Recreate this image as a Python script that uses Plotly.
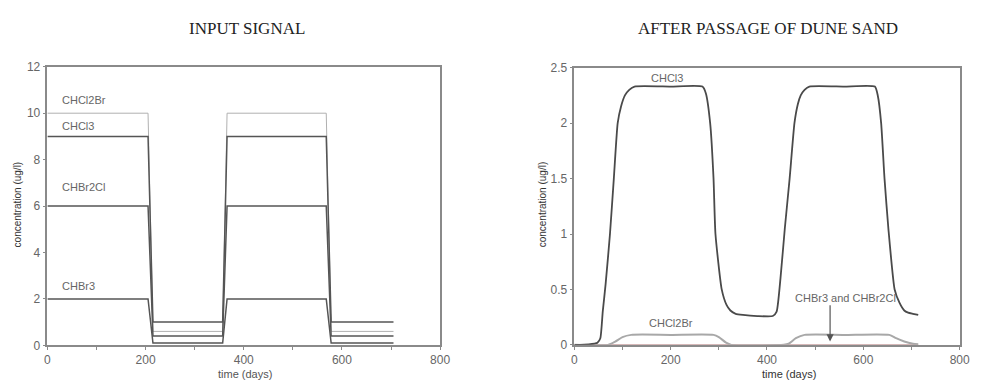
import plotly.graph_objects as go

# ---------------- data ----------------
days_in = [0, 205, 215, 357, 366, 568, 578, 705]
chcl2br_in = [10, 10, 0.6, 0.6, 10, 10, 0.6, 0.6]
chcl3_in = [9, 9, 1.0, 1.0, 9, 9, 1.0, 1.0]
chbr2cl_in = [6, 6, 0.4, 0.4, 6, 6, 0.4, 0.4]
chbr3_in = [2, 2, 0.1, 0.1, 2, 2, 0.1, 0.1]

days_out_cl3 = [0, 30, 48, 54, 59, 65, 74, 82, 90, 97, 105, 114, 125, 200, 266, 273, 282, 289,
                293, 306, 316, 324, 335, 350, 380, 412, 420, 428, 437, 447, 457, 464, 470, 478,
                488, 560, 624, 630, 637, 644, 652, 665, 675, 685, 693, 703, 714]
chcl3_out = [0, 0.005, 0.02, 0.06, 0.3, 0.55, 1.0, 1.5, 2.0, 2.15, 2.25, 2.3, 2.33, 2.33, 2.33,
             2.27, 2.0, 1.5, 1.0, 0.5, 0.36, 0.31, 0.28, 0.27, 0.26, 0.26, 0.3, 0.6, 1.05, 1.5,
             2.0, 2.17, 2.25, 2.3, 2.33, 2.33, 2.33, 2.25, 2.0, 1.5, 1.05, 0.5, 0.38, 0.31, 0.29,
             0.28, 0.27]

days_out_cl2br = [0, 70, 85, 100, 118, 200, 289, 300, 315, 326, 435, 445, 460, 478, 560, 654,
                  668, 685, 703, 714]
chcl2br_out = [0, 0, 0.03, 0.07, 0.09, 0.09, 0.09, 0.07, 0.02, 0, 0, 0.01, 0.06, 0.09, 0.09,
               0.09, 0.06, 0.03, 0.01, 0.005]

days_out_br = [0, 714]
chbr_out = [0, 0]

# ---------------- figure ----------------
W, H = 981, 388
fig = go.Figure()

dark = "#555555"
light = "#b0b0b0"

fig.add_trace(go.Scatter(x=days_in, y=chcl2br_in, mode="lines", line=dict(color=light, width=1),
                         xaxis="x", yaxis="y", showlegend=False))
fig.add_trace(go.Scatter(x=days_in, y=chcl3_in, mode="lines", line=dict(color=dark, width=1.5),
                         xaxis="x", yaxis="y", showlegend=False))
fig.add_trace(go.Scatter(x=days_in, y=chbr2cl_in, mode="lines", line=dict(color=dark, width=1.5),
                         xaxis="x", yaxis="y", showlegend=False))
fig.add_trace(go.Scatter(x=days_in, y=chbr3_in, mode="lines", line=dict(color=dark, width=1.5),
                         xaxis="x", yaxis="y", showlegend=False))

fig.add_trace(go.Scatter(x=days_out_br, y=chbr_out, mode="lines", line=dict(color="#c9a0a0", width=1.5),
                         xaxis="x2", yaxis="y2", showlegend=False))
fig.add_trace(go.Scatter(x=days_out_cl2br, y=chcl2br_out, mode="lines", line=dict(color="#a8a8a8", width=2, shape="spline", smoothing=0.6),
                         xaxis="x2", yaxis="y2", showlegend=False))
fig.add_trace(go.Scatter(x=days_out_cl3, y=chcl3_out, mode="lines", line=dict(color="#4a4a4a", width=1.8, shape="spline", smoothing=0.5),
                         xaxis="x2", yaxis="y2", showlegend=False))

axis_common = dict(showline=True, linecolor="#8a8a8a", linewidth=1.5, mirror=True, showgrid=False,
                   zeroline=False, ticks="outside", ticklen=3, tickcolor="#8a8a8a",
                   tickfont=dict(family="Liberation Sans, Arial", size=12, color="#666666"))

fig.update_layout(
    width=W, height=H, margin=dict(l=0, r=0, t=0, b=0),
    paper_bgcolor="white", plot_bgcolor="white",
    xaxis=dict(domain=[45 / W, 443 / W], range=[0, 800], dtick=200, anchor="y",
               minor=dict(dtick=100, ticks="outside", ticklen=3, tickcolor="#8a8a8a"), **axis_common),
    yaxis=dict(domain=[(H - 351) / H, (H - 62) / H], range=[0, 12], dtick=2, anchor="x", **axis_common),
    xaxis2=dict(domain=[579 / W, 969.5 / W], range=[0, 800], dtick=200, anchor="y2",
                minor=dict(dtick=100, ticks="outside", ticklen=3, tickcolor="#8a8a8a"), **axis_common),
    yaxis2=dict(domain=[(H - 350.5) / H, (H - 63) / H], range=[0, 2.5], dtick=0.5, anchor="x2", **axis_common),
)

lab = dict(family="Liberation Sans, Arial", size=11, color="#666666")
ann = []


def paper_text(text, px, py, font, angle=0):
    return dict(text=text, x=px / W, y=(H - py) / H, xref="paper", yref="paper",
                xanchor="center", yanchor="middle", textangle=angle, showarrow=False, font=font)


# titles
serif = dict(family="Liberation Serif, Times New Roman", size=17, color="#222222")
ann.append(paper_text("INPUT SIGNAL", 247, 22, serif))
ann.append(paper_text("AFTER PASSAGE OF DUNE SAND", 775, 22, serif))
# axis titles
ann.append(paper_text("concentration (ug/l)", 15, 205,
                      dict(family="Liberation Sans, Arial", size=10, color="#333333"), -90))
ann.append(paper_text("concentration (ug/l)", 547, 205,
                      dict(family="Liberation Sans, Arial", size=10, color="#333333"), -90))
ann.append(paper_text("time (days)", 245, 381, dict(family="Liberation Sans, Arial", size=11, color="#555555")))
ann.append(paper_text("time (days)", 797, 381, dict(family="Liberation Sans, Arial", size=11, color="#333333")))
# series labels, left
for t, yv in [("CHCl2Br", 10.55), ("CHCl3", 9.45), ("CHBr2Cl", 6.8), ("CHBr3", 2.55)]:
    ann.append(dict(text=t, x=26, y=yv, xref="x", yref="y", xanchor="left", yanchor="middle",
                    showarrow=False, font=lab))
# series labels, right
ann.append(dict(text="CHCl3", x=193, y=2.41, xref="x2", yref="y2", xanchor="center", yanchor="middle",
                showarrow=False, font=lab))
ann.append(dict(text="CHCl2Br", x=201, y=0.2, xref="x2", yref="y2", xanchor="center", yanchor="middle",
                showarrow=False, font=lab))
ann.append(dict(text="CHBr3 and CHBr2Cl", x=562, y=0.42, xref="x2", yref="y2", xanchor="center",
                yanchor="middle", showarrow=False, font=lab))
ann.append(dict(text="", x=531, y=0.03, xref="x2", yref="y2", ax=531, ay=0.37, axref="x2", ayref="y2",
                showarrow=True, arrowhead=2, arrowsize=1.2, arrowwidth=1.2, arrowcolor="#555555"))
fig.update_layout(annotations=ann)

fig.write_html("out.html")
